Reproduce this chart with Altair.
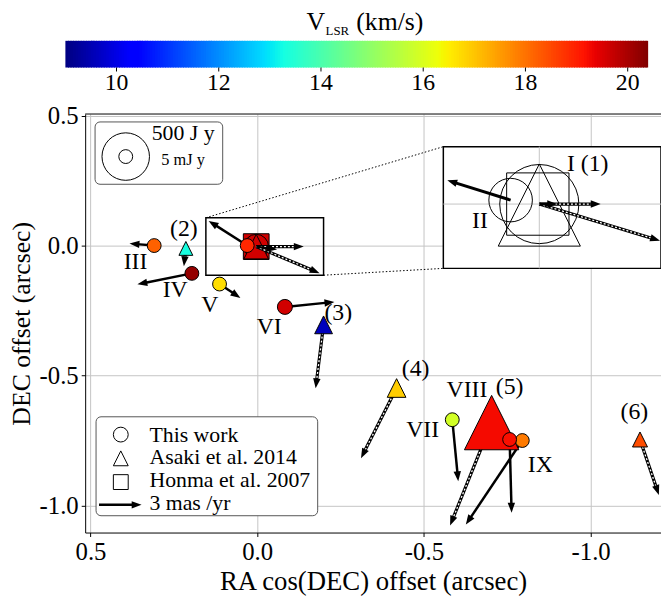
import math
import numpy as np
import pandas as pd
import altair as alt

FONT = "Liberation Serif"

# ===================== data =====================
# This work (maser features I-IX): offsets (arcsec), VLSR (km/s), flux (Jy), proper motion (mas/yr)
tw_label = ["I", "II", "III", "IV", "V", "VI", "VII", "IX", "VIII"]
tw_ra    = [0.003, 0.030, 0.309, 0.196, 0.113, -0.083, -0.585, -0.795, -0.757]
tw_dec   = [-0.004, 0.000, 0.000, -0.107, -0.148, -0.236, -0.670, -0.750, -0.746]
tw_vlsr  = [19.6, 18.9, 18.2, 20.2, 16.7, 19.6, 15.9, 17.9, 19.2]
tw_flux  = [0.05, 0.005, 0.005, 0.005, 0.005, 0.006, 0.005, 0.005, 0.005]
tw_pmra  = [-1.47, 2.72, 1.74, 3.84, -1.47, -3.49, -0.42, 3.98, -0.14]
tw_pmdec = [-0.21, 1.74, 0.14, -0.77, -0.98, 0.35, -4.33, -5.93, -5.16]

# Asaki et al. 2014: features (1)-(6)
as_label = ["(1)", "(2)", "(3)", "(4)", "(5)", "(6)"]
as_ra    = [0.003, 0.214, -0.199, -0.418, -0.703, -1.148]
as_dec   = [-0.004, -0.011, -0.305, -0.548, -0.681, -0.746]
as_vlsr  = [19.6, 13.3, 9.6, 16.9, 19.25, 18.45]
as_flux  = [0.05, 0.005, 0.010, 0.012, 25000, 0.006]
as_pmra  = [-3.35, 0.14, 0.56, 2.51, 2.93, -1.33]
as_pmdec = [0.0, -1.26, -4.47, -4.95, -7.26, -3.91]

# Honma et al. 2007
hm_ra, hm_dec, hm_vlsr, hm_flux = [0.003], [-0.004], [19.6], [0.069]
hm_pmra, hm_pmdec = [-4.47], [-1.88]

# feature labels in the main panel
lab_text = ["III", "(2)", "IV", "V", "VI", "(3)", "(4)", "VIII", "(5)", "VII", "IX", "(6)"]
lab_ra   = [0.365, 0.220, 0.246, 0.142, -0.036, -0.243, -0.475, -0.629, -0.757, -0.496, -0.849, -1.131]
lab_dec  = [-0.065, 0.065, -0.171, -0.228, -0.312, -0.259, -0.476, -0.556, -0.544, -0.708, -0.845, -0.640]

# zoomed region shown in the inset (arcsec)
zoom_ra = [0.154, -0.199]
zoom_dec = [-0.114, 0.107]

# inset content, offsets in mas relative to feature I
ins_II = (14.5, 2.0)
ins_sq = (0.75, 0.0)
ins_tri = (0.0, -0.5)
ins_solid_from = [(14.5, 2.0), (0.0, 0.0)]        # II, I
ins_solid_to   = [(46.5, 12.0), (-9.0, 0.0)]
ins_dot_from   = [(0.0, 0.0), (0.0, 0.0)]         # (1), Honma
ins_dot_to     = [(-31.0, 0.0), (-61.0, -18.5)]
ins_box_ra  = [48.5, -61.5]
ins_box_dec = [-32.5, 29.0]

cbar_ticks = [10, 12, 14, 16, 18, 20]
VMIN, VMAX = 9.0, 20.4

# ===================== layout / style =====================
X_LEFT, X_RIGHT = 0.516, -1.211
Y_TOP, Y_BOT = 0.506, -1.104
W, H = 582, 423
PAD_L, PAD_T = 78, 104
KX = W / (X_LEFT - X_RIGHT)
KY = H / (Y_TOP - Y_BOT)
PM_PX = 43.0 / 3.0          # arrow pixels per mas/yr (3 mas/yr legend arrow)
GRID = "#c4c4c4"
HEAD = "M0,0L-0.75,2L0.75,2Z"
TRI = "M0,-1L1,1L-1,1Z"


def ax(px):
    return X_LEFT - (np.asarray(px, dtype=float) - (8 + PAD_L)) / KX


def ay(py):
    return Y_TOP - (np.asarray(py, dtype=float) - (8 + PAD_T)) / KY


# inset mapping (inset centre on page at 545,203; 2 px per mas)
IX0, IY0 = float(ax(545)), float(ay(203))
INS = 2.0


def ix(m):
    return IX0 + np.asarray(m, dtype=float) * INS / KX


def iy(m):
    return IY0 + np.asarray(m, dtype=float) * INS / KY


JET_T = [0, .11, .125, .34, .35, .375, .64, .65, .66, .89, .91, 1]
JET_C = ["#000080", "#0000ff", "#0000ff", "#00dbff", "#00e6f7", "#15ffe2",
         "#efff08", "#f7f500", "#ffec00", "#ff1300", "#e80000", "#800000"]
fill_scale = alt.Scale(domain=[VMIN + t * (VMAX - VMIN) for t in JET_T], range=JET_C,
                       interpolate="rgb", clamp=True)
size_scale = alt.Scale(type="log", domain=[0.005, 500], range=[196, 2304])

xs = alt.Scale(domain=[X_RIGHT, X_LEFT], reverse=True, nice=False, zero=False)
ys = alt.Scale(domain=[Y_BOT, Y_TOP], nice=False, zero=False)

LBL = "datum.value < 0 ? '-' + format(-datum.value, '.1f') : format(datum.value, '.1f')"
common_axis = dict(grid=True, gridColor=GRID, gridWidth=1, tickSize=4, tickColor="black",
                   domainColor="black", domainWidth=1, labelFont=FONT, labelFontSize=25,
                   labelColor="black", labelPadding=3, titleFont=FONT,
                   titleFontWeight="normal", titleColor="black", labelFlush=False,
                   labelOverlap=False)
x_axis = alt.Axis(values=[0.5, 0.0, -0.5, -1.0], labelExpr=LBL, title="RA cos(DEC) offset (arcsec)",
                  titleY=50, titleBaseline="middle", titleFontSize=27, **common_axis)
y_axis = alt.Axis(values=[0.5, 0.0, -0.5, -1.0], labelExpr=LBL, title="DEC offset (arcsec)",
                  titleX=-64, titleY=H / 2, titleAngle=270, titleBaseline="middle",
                  titleAlign="center", titleFontSize=26, **common_axis)


def XY(x="x", y="y", x2=None, y2=None):
    e = dict(x=alt.X(f"{x}:Q", scale=xs, axis=x_axis), y=alt.Y(f"{y}:Q", scale=ys, axis=y_axis))
    if x2:
        e["x2"] = alt.X2(f"{x2}:Q")
    if y2:
        e["y2"] = alt.Y2(f"{y2}:Q")
    return e


FILL = alt.Fill("v:Q", scale=fill_scale, legend=None)
SIZE = alt.Size("flux:Q", scale=size_scale, legend=None)


def seg_df(x, y, x2, y2):
    rows = []
    for a, b, c, d in zip(x, y, x2, y2):
        sx = -(c - a) * KX
        sy = -(d - b) * KY
        L = math.hypot(sx, sy)
        f = max(0.0, 1 - 7.0 / L) if L > 0 else 0.0
        rows.append(dict(x=a, y=b, x2=c, y2=d, xs=a + (c - a) * f, ys=b + (d - b) * f,
                         ang=math.degrees(math.atan2(sx, -sy)) % 360))
    return pd.DataFrame(rows)


def pm_df(x, y, pmra, pmdec):
    x2 = [a + p * PM_PX / KX for a, p in zip(x, pmra)]
    y2 = [b + p * PM_PX / KY for b, p in zip(y, pmdec)]
    return seg_df(x, y, x2, y2)


def solid_arrows(d, width=2.5):
    shaft = alt.Chart(d).mark_rule(color="black", strokeWidth=width).encode(**XY("x", "y", "xs", "ys"))
    head = alt.Chart(d).mark_point(shape=HEAD, size=100, filled=True, color="black", opacity=1,
                                   strokeWidth=0).encode(**XY("x2", "y2"),
                                                         angle=alt.Angle("ang:Q", scale=None))
    return [shaft, head]


def dotted_arrows(d):
    base = alt.Chart(d).mark_rule(color="black", strokeWidth=3.2).encode(**XY("x", "y", "xs", "ys"))
    dash = alt.Chart(d).mark_rule(color="white", strokeWidth=1.3, strokeDash=[2, 2]).encode(
        **XY("x", "y", "xs", "ys"))
    head = alt.Chart(d).mark_point(shape=HEAD, size=100, filled=True, color="black", opacity=1,
                                   strokeWidth=0).encode(**XY("x2", "y2"),
                                                         angle=alt.Angle("ang:Q", scale=None))
    return [base, dash, head]


def texts(t, x, y, size, align="center", baseline="middle"):
    d = pd.DataFrame(dict(t=t, x=x, y=y))
    return alt.Chart(d).mark_text(font=FONT, fontSize=size, align=align, baseline=baseline,
                                  color="black").encode(**XY(), text="t:N")


layers = []

# top spine
spine = alt.Chart(pd.DataFrame(dict(x=[X_LEFT], x2=[X_RIGHT], y=[Y_TOP]))).mark_rule(
    color="black", strokeWidth=1).encode(**XY("x", "y", "x2"))
layers.append(spine)

# zoom box + connectors
conn = pd.DataFrame(dict(x=[zoom_ra[0], zoom_ra[1]], y=[zoom_dec[1], zoom_dec[0]],
                         x2=[float(ix(ins_box_ra[0])), float(ix(ins_box_ra[0]))],
                         y2=[float(iy(ins_box_dec[1])), float(iy(ins_box_dec[0]))]))
layers.append(alt.Chart(conn).mark_rule(color="black", strokeWidth=1, strokeDash=[1.5, 2]).encode(
    **XY("x", "y", "x2", "y2")))
zb = pd.DataFrame(dict(x=[zoom_ra[0]], x2=[zoom_ra[1]], y=[zoom_dec[0]], y2=[zoom_dec[1]]))
layers.append(alt.Chart(zb).mark_rect(fillOpacity=0, stroke="black", strokeWidth=1.5).encode(
    **XY("x", "y", "x2", "y2")))

tw = pd.DataFrame(dict(label=tw_label, x=tw_ra, y=tw_dec, v=tw_vlsr, flux=tw_flux))
asa = pd.DataFrame(dict(label=as_label, x=as_ra, y=as_dec, v=as_vlsr, flux=as_flux))
hm = pd.DataFrame(dict(x=hm_ra, y=hm_dec, v=hm_vlsr, flux=hm_flux))

MK = dict(filled=True, opacity=1, stroke="black", strokeWidth=1)
# features sitting in the zoom box (drawn below arrows)
layers.append(alt.Chart(hm).mark_point(shape="square", **MK).encode(**XY(), fill=FILL, size=SIZE))
layers.append(alt.Chart(tw[tw.label == "I"]).mark_point(shape="circle", **MK).encode(**XY(), fill=FILL, size=SIZE))
layers.append(alt.Chart(asa[asa.label == "(1)"]).mark_point(shape=TRI, **MK).encode(**XY(), fill=FILL, size=SIZE))

# proper-motion arrows
layers += dotted_arrows(pm_df(as_ra + hm_ra, as_dec + hm_dec, as_pmra + hm_pmra, as_pmdec + hm_pmdec))
layers += solid_arrows(pm_df(tw_ra, tw_dec, tw_pmra, tw_pmdec))

# remaining markers
layers.append(alt.Chart(asa[asa.label != "(1)"]).mark_point(shape=TRI, **MK).encode(**XY(), fill=FILL, size=SIZE))
layers.append(alt.Chart(tw[tw.label != "I"]).mark_point(shape="circle", **MK).encode(**XY(), fill=FILL, size=SIZE))

# labels
layers.append(texts(lab_text, lab_ra, lab_dec, 24))

# ---------------- inset ----------------
ib = pd.DataFrame(dict(x=[float(ix(ins_box_ra[0]))], x2=[float(ix(ins_box_ra[1]))],
                       y=[float(iy(ins_box_dec[0]))], y2=[float(iy(ins_box_dec[1]))]))
layers.append(alt.Chart(ib).mark_rect(fill="white", stroke="black", strokeWidth=1.5).encode(
    **XY("x", "y", "x2", "y2")))
ig = pd.DataFrame(dict(x=[float(ix(0)), float(ix(ins_box_ra[0]))],
                       x2=[float(ix(0)), float(ix(ins_box_ra[1]))],
                       y=[float(iy(ins_box_dec[0])), float(iy(0))],
                       y2=[float(iy(ins_box_dec[1])), float(iy(0))]))
layers.append(alt.Chart(ig).mark_rule(color=GRID, strokeWidth=1).encode(**XY("x", "y", "x2", "y2")))
OUT = dict(filled=False, opacity=1, color="black", strokeWidth=1)
for pos, shape, sz in [((0.0, 0.0), "circle", 6400), (ins_sq, "square", 3969),
                       (ins_tri, TRI, 6889), (ins_II, "circle", 1936)]:
    d = pd.DataFrame(dict(x=[float(ix(pos[0]))], y=[float(iy(pos[1]))]))
    layers.append(alt.Chart(d).mark_point(shape=shape, size=sz, **OUT).encode(**XY()))
layers += dotted_arrows(seg_df([ix(p[0]) for p in ins_dot_from], [iy(p[1]) for p in ins_dot_from],
                               [ix(p[0]) for p in ins_dot_to], [iy(p[1]) for p in ins_dot_to]))
layers += solid_arrows(seg_df([ix(p[0]) for p in ins_solid_from], [iy(p[1]) for p in ins_solid_from],
                              [ix(p[0]) for p in ins_solid_to], [iy(p[1]) for p in ins_solid_to]), 3)
layers.append(texts(["I (1)"], [float(ix(-14))], [float(iy(20))], 24, align="left"))
layers.append(texts(["II"], [float(ix(30))], [float(iy(-8.5))], 24))

# ---------------- size legend ----------------
sb = pd.DataFrame(dict(x=[ax(96)], x2=[ax(225)], y=[ay(120)], y2=[ay(183)]))
layers.append(alt.Chart(sb).mark_rect(fill="white", stroke="#555555", strokeWidth=1, cornerRadius=5).encode(
    **XY("x", "y", "x2", "y2")))
sl = pd.DataFrame(dict(x=[ax(127)] * 2, y=[ay(155)] * 2, flux=[500, 0.005]))
layers.append(alt.Chart(sl).mark_point(shape="circle", filled=False, opacity=1, color="black",
                                       strokeWidth=1).encode(**XY(), size=SIZE))
layers.append(texts(["500 J y"], [ax(185)], [ay(131)], 22))
layers.append(texts(["5 mJ y"], [ax(185)], [ay(159)], 16.5))

# ---------------- marker legend ----------------
mb = pd.DataFrame(dict(x=[ax(97)], x2=[ax(321)], y=[ay(418)], y2=[ay(518)]))
layers.append(alt.Chart(mb).mark_rect(fill="white", stroke="#555555", strokeWidth=1, cornerRadius=5).encode(
    **XY("x", "y", "x2", "y2")))
for py, shape in [(436, "circle"), (460, TRI), (484, "square")]:
    d = pd.DataFrame(dict(x=[ax(122)], y=[ay(py)]))
    layers.append(alt.Chart(d).mark_point(shape=shape, size=225, **OUT).encode(**XY()))
layers += solid_arrows(pm_df([float(ax(100))], [float(ay(507))], [-3.0], [0.0]))
layers.append(texts(["This work", "Asaki et al. 2014", "Honma et al. 2007", "3 mas /yr"],
                    [ax(151)] * 4, [ay(436), ay(459), ay(482), ay(505)], 22, align="left"))

# ---------------- colour bar ----------------
cb_step = 0.05
cb_v = np.arange(VMIN, VMAX, cb_step)


def cbx(v):
    return ax(66 + (np.asarray(v) - VMIN) * 589 / (VMAX - VMIN))


cb = pd.DataFrame(dict(v=cb_v + cb_step / 2, x=cbx(cb_v), x2=cbx(np.minimum(cb_v + cb_step * 1.4, VMAX)),
                       y=ay(38), y2=ay(65)))
layers.append(alt.Chart(cb).mark_rect(strokeWidth=0).encode(**XY("x", "y", "x2", "y2"), fill=FILL))
ct = pd.DataFrame(dict(x=cbx(cbar_ticks), y=ay(65), y2=ay(69)))
layers.append(alt.Chart(ct).mark_rule(color="black", strokeWidth=1).encode(**XY("x", "y", None, "y2")))
layers.append(texts([str(t) for t in cbar_ticks], cbx(cbar_ticks), [ay(81)] * 6, 24))
layers.append(texts(["V"], [ax(319)], [ay(19)], 26))
layers.append(texts(["LSR"], [ax(329)], [ay(28)], 13, align="left"))
layers.append(texts(["(km/s)"], [ax(360)], [ay(19)], 26, align="left"))

chart = alt.layer(*layers).properties(
    width=W, height=H,
    autosize=alt.AutoSizeParams(type="none"),
    padding={"left": PAD_L, "top": PAD_T, "right": 0, "bottom": 64},
).configure_view(stroke=None)

chart.save("out.html", embed_options={"renderer": "svg", "actions": False})
